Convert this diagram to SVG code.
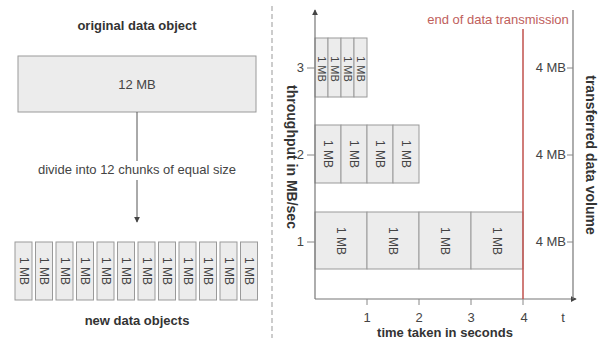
<svg xmlns="http://www.w3.org/2000/svg" width="605" height="342" viewBox="0 0 605 342">
<style>
text{font-family:"Liberation Sans",Arial,sans-serif;fill:#444}
.t{font-size:13px;font-weight:bold;fill:#333}
.r{font-size:13px}
.c{font-size:12px}
.c3{font-size:11px}
.box{fill:#ececec;stroke:#9a9a9a;stroke-width:1}
.ax{stroke:#777;stroke-width:1.2;fill:none}
.tk{stroke:#888;stroke-width:1}
</style>
<defs>
<marker id="ah" viewBox="0 0 8 8" refX="7" refY="4" markerWidth="6" markerHeight="6" orient="auto" markerUnits="userSpaceOnUse"><path d="M0,0 L8,4 L0,8 z" fill="#444"/></marker>
</defs>
<rect width="605" height="342" fill="#fff"/>

<g id="left-title"><text class="t" x="137" y="30" text-anchor="middle">original data object</text></g>
<g id="original"><rect class="box" x="18" y="56" width="238" height="56"/><text class="r" x="137" y="89" text-anchor="middle">12 MB</text></g>
<g id="divide-label"><text class="r" x="137" y="174" text-anchor="middle">divide into 12 chunks of equal size</text></g>

<g id="chunks">
<g id="chunk1"><rect class="box" x="15" y="242" width="17" height="58"/><text class="c" transform="translate(23.5,271) rotate(90)" text-anchor="middle" dy="4">1 MB</text></g>
<g id="chunk2"><rect class="box" x="35.5" y="242" width="17" height="58"/><text class="c" transform="translate(44,271) rotate(90)" text-anchor="middle" dy="4">1 MB</text></g>
<g id="chunk3"><rect class="box" x="56" y="242" width="17" height="58"/><text class="c" transform="translate(64.5,271) rotate(90)" text-anchor="middle" dy="4">1 MB</text></g>
<g id="chunk4"><rect class="box" x="76.5" y="242" width="17" height="58"/><text class="c" transform="translate(85,271) rotate(90)" text-anchor="middle" dy="4">1 MB</text></g>
<g id="chunk5"><rect class="box" x="97" y="242" width="17" height="58"/><text class="c" transform="translate(105.5,271) rotate(90)" text-anchor="middle" dy="4">1 MB</text></g>
<g id="chunk6"><rect class="box" x="117.5" y="242" width="17" height="58"/><text class="c" transform="translate(126,271) rotate(90)" text-anchor="middle" dy="4">1 MB</text></g>
<g id="chunk7"><rect class="box" x="138" y="242" width="17" height="58"/><text class="c" transform="translate(146.5,271) rotate(90)" text-anchor="middle" dy="4">1 MB</text></g>
<g id="chunk8"><rect class="box" x="158.5" y="242" width="17" height="58"/><text class="c" transform="translate(167,271) rotate(90)" text-anchor="middle" dy="4">1 MB</text></g>
<g id="chunk9"><rect class="box" x="179" y="242" width="17" height="58"/><text class="c" transform="translate(187.5,271) rotate(90)" text-anchor="middle" dy="4">1 MB</text></g>
<g id="chunk10"><rect class="box" x="199.5" y="242" width="17" height="58"/><text class="c" transform="translate(208,271) rotate(90)" text-anchor="middle" dy="4">1 MB</text></g>
<g id="chunk11"><rect class="box" x="220" y="242" width="17" height="58"/><text class="c" transform="translate(228.5,271) rotate(90)" text-anchor="middle" dy="4">1 MB</text></g>
<g id="chunk12"><rect class="box" x="240.5" y="242" width="17" height="58"/><text class="c" transform="translate(249,271) rotate(90)" text-anchor="middle" dy="4">1 MB</text></g>
</g>
<g id="left-bottom-title"><text class="t" x="137" y="325" text-anchor="middle">new data objects</text></g>

<g id="connectors">
<line x1="137" y1="112" x2="137" y2="161" stroke="#555" stroke-width="1"/>
<line x1="137" y1="180" x2="137" y2="222" stroke="#555" stroke-width="1" marker-end="url(#ah)"/>
<line x1="272" y1="6" x2="272" y2="338" stroke="#999" stroke-width="1" stroke-dasharray="5,3"/>
</g>

<g id="row3">
<rect class="box" x="315" y="38" width="13" height="59"/><rect class="box" x="328" y="38" width="13" height="59"/><rect class="box" x="341" y="38" width="13" height="59"/><rect class="box" x="354" y="38" width="13" height="59"/>
<text class="c3" transform="translate(321.5,69) rotate(90)" text-anchor="middle" dy="4">1 MB</text>
<text class="c3" transform="translate(334.5,69) rotate(90)" text-anchor="middle" dy="4">1 MB</text>
<text class="c3" transform="translate(347.5,69) rotate(90)" text-anchor="middle" dy="4">1 MB</text>
<text class="c3" transform="translate(360.5,69) rotate(90)" text-anchor="middle" dy="4">1 MB</text>
</g>
<g id="row2">
<rect class="box" x="315" y="125" width="26" height="58"/><rect class="box" x="341" y="125" width="26" height="58"/><rect class="box" x="367" y="125" width="26" height="58"/><rect class="box" x="393" y="125" width="26" height="58"/>
<text class="c" transform="translate(328,154) rotate(90)" text-anchor="middle" dy="4">1 MB</text>
<text class="c" transform="translate(354,154) rotate(90)" text-anchor="middle" dy="4">1 MB</text>
<text class="c" transform="translate(380,154) rotate(90)" text-anchor="middle" dy="4">1 MB</text>
<text class="c" transform="translate(406,154) rotate(90)" text-anchor="middle" dy="4">1 MB</text>
</g>
<g id="row1">
<rect class="box" x="315" y="212" width="52" height="57"/><rect class="box" x="367" y="212" width="52" height="57"/><rect class="box" x="419" y="212" width="52" height="57"/><rect class="box" x="471" y="212" width="52" height="57"/>
<text class="c" transform="translate(341,241) rotate(90)" text-anchor="middle" dy="4">1 MB</text>
<text class="c" transform="translate(393,241) rotate(90)" text-anchor="middle" dy="4">1 MB</text>
<text class="c" transform="translate(445,241) rotate(90)" text-anchor="middle" dy="4">1 MB</text>
<text class="c" transform="translate(497,241) rotate(90)" text-anchor="middle" dy="4">1 MB</text>
</g>

<g id="axes">
<line class="ax" x1="315" y1="299" x2="315" y2="10" marker-end="url(#ah)"/>
<line class="ax" x1="315" y1="299" x2="576" y2="299" marker-end="url(#ah)"/>
<line class="ax" x1="573" y1="10" x2="573" y2="299"/>
<line class="tk" x1="367" y1="299" x2="367" y2="305"/><line class="tk" x1="419" y1="299" x2="419" y2="305"/><line class="tk" x1="471" y1="299" x2="471" y2="305"/><line class="tk" x1="523" y1="299" x2="523" y2="305"/>
<line class="tk" x1="307" y1="68" x2="315" y2="68"/><line class="tk" x1="307" y1="155" x2="315" y2="155"/><line class="tk" x1="307" y1="242" x2="315" y2="242"/>
<line class="tk" x1="567" y1="68" x2="573" y2="68"/><line class="tk" x1="567" y1="155" x2="573" y2="155"/><line class="tk" x1="567" y1="242" x2="573" y2="242"/>
<text class="r" x="367" y="322" text-anchor="middle">1</text>
<text class="r" x="419" y="322" text-anchor="middle">2</text>
<text class="r" x="471" y="322" text-anchor="middle">3</text>
<text class="r" x="524" y="322" text-anchor="middle">4</text>
<text class="r" x="563" y="322" text-anchor="middle">t</text>
<text class="r" x="304" y="72" text-anchor="end">3</text>
<text class="r" x="304" y="159" text-anchor="end">2</text>
<text class="r" x="304" y="246" text-anchor="end">1</text>
<text class="r" x="566" y="72" text-anchor="end">4 MB</text>
<text class="r" x="566" y="159" text-anchor="end">4 MB</text>
<text class="r" x="566" y="246" text-anchor="end">4 MB</text>
<text class="t" x="445" y="337" text-anchor="middle">time taken in seconds</text>
<text class="t" transform="translate(292,157) rotate(90)" text-anchor="middle" dy="5" style="font-size:14px">throughput in MB/sec</text>
<text class="t" transform="translate(591,155) rotate(90)" text-anchor="middle" dy="5" style="font-size:14px">transferred data volume</text>
</g>

<g id="end-marker">
<line x1="523" y1="29" x2="523" y2="299" stroke="#c0504d" stroke-width="1.5"/>
<text class="r" x="498" y="24" text-anchor="middle" style="fill:#c0605c">end of data transmission</text>
</g>
</svg>
